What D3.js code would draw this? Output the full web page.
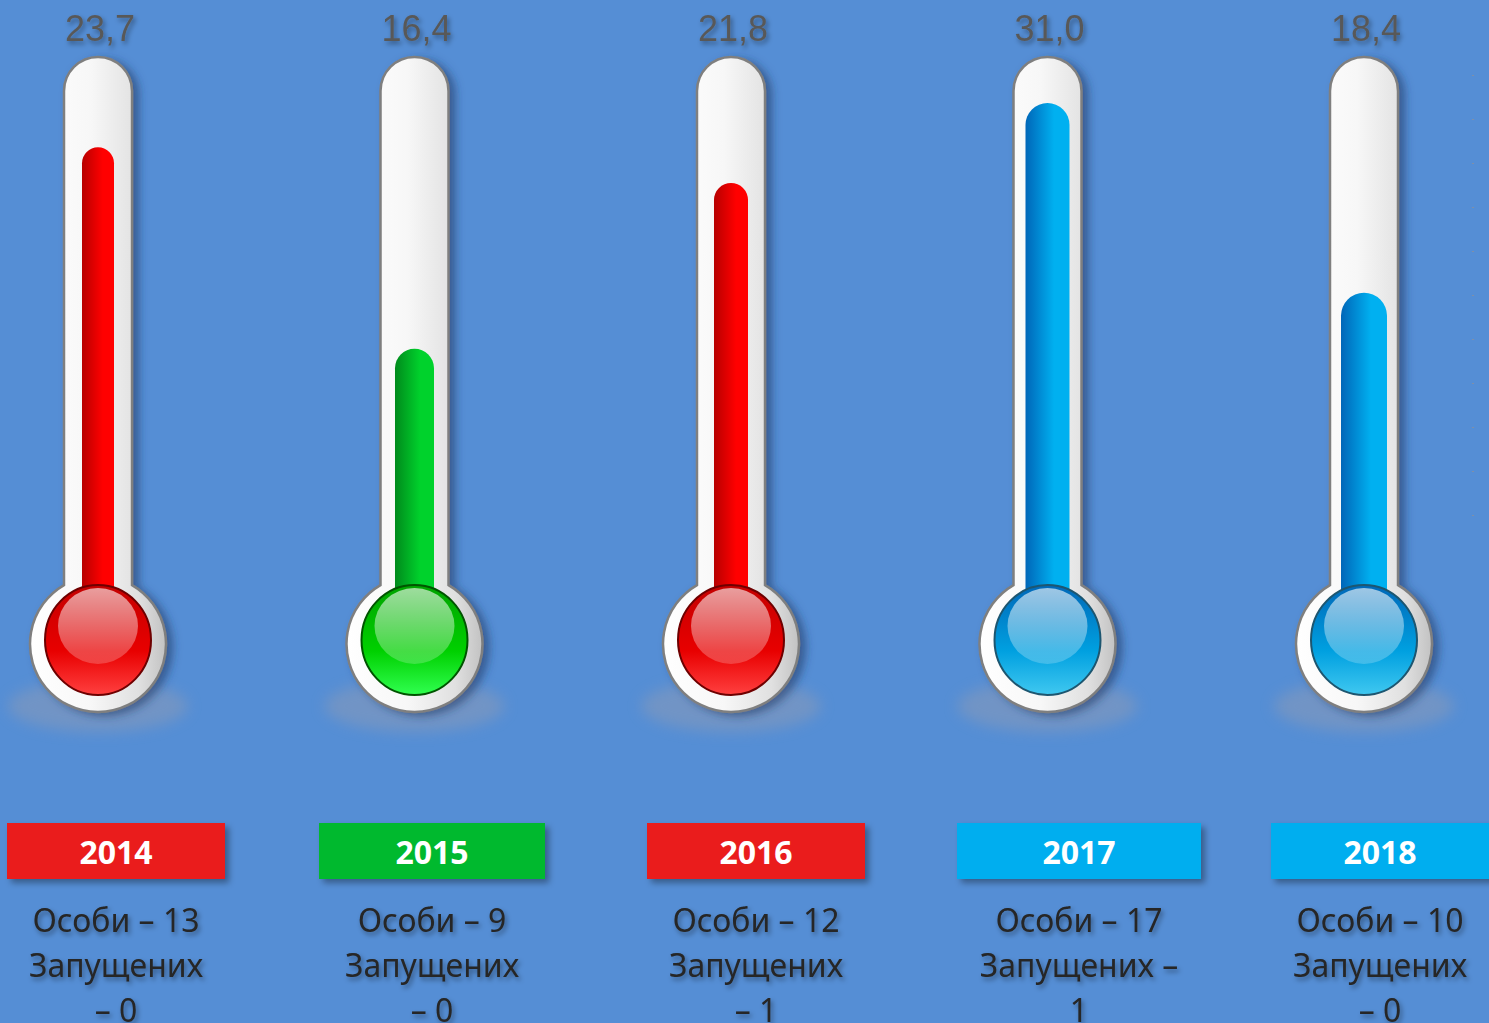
<!DOCTYPE html>
<html>
<head>
<meta charset="utf-8">
<script src="https://cdn.jsdelivr.net/npm/d3@7"></script>
<style>
  body { margin: 0; background: #558ed5; overflow: hidden; }
</style>
</head>
<body>
<div id="chart"></div>
<script>
// data
const years = ["2014", "2015", "2016", "2017", "2018"];
const values = [23.7, 16.4, 21.8, 31.0, 18.4];
const fillLevels = [88, 52, 81.6, 95.9, 62]; // column height, % of the tube
const persons = [13, 9, 12, 17, 10];
const released = [0, 0, 1, 1, 0];
const palette = ["red", "green", "red", "blue", "blue"];

// layout
const W = 1489, H = 1023;
const fillW = [32, 39, 34, 44, 46];
const boxLeft = [7, 319, 647, 957, 1271];
const boxRight = [225, 545, 865, 1201, 1497];

const themes = {
  red:   { bar: ["#b70000", "#ff0000"], bulb: ["#c40000", "#e80000", "#ff4040"], rim: "#6e0000", box: "#ea1b1b" },
  green: { bar: ["#008a1c", "#00d22c"], bulb: ["#00a300", "#00d000", "#30ff50"], rim: "#005400", box: "#00b92d" },
  blue:  { bar: ["#0066b8", "#00b0f0"], bulb: ["#0068b8", "#00a0e0", "#40c8f0"], rim: "#1d5670", box: "#00aeef" }
};

const svg = d3.select("#chart").append("svg")
  .attr("width", W)
  .attr("height", H);

const defs = svg.append("defs");

defs.append("filter").attr("id", "tubeShadow")
  .attr("x", "-30%").attr("y", "-10%").attr("width", "160%").attr("height", "120%")
  .append("feDropShadow")
  .attr("dx", 6).attr("dy", 3).attr("stdDeviation", 4)
  .attr("flood-color", "#1a3560").attr("flood-opacity", 0.55);

defs.append("filter").attr("id", "textShadow")
  .attr("x", "-20%").attr("y", "-30%").attr("width", "140%").attr("height", "160%")
  .append("feDropShadow")
  .attr("dx", 2).attr("dy", 3).attr("stdDeviation", 2.5)
  .attr("flood-color", "#000").attr("flood-opacity", 0.4);

defs.append("filter").attr("id", "boxShadow")
  .attr("x", "-10%").attr("y", "-20%").attr("width", "120%").attr("height", "150%")
  .append("feDropShadow")
  .attr("dx", 4).attr("dy", 4).attr("stdDeviation", 3)
  .attr("flood-color", "#000").attr("flood-opacity", 0.35);

defs.append("filter").attr("id", "floorBlur")
  .attr("x", "-30%").attr("y", "-60%").attr("width", "160%").attr("height", "220%")
  .append("feGaussianBlur").attr("stdDeviation", 7);

const tubeGrad = defs.append("linearGradient").attr("id", "tubeGrad")
  .attr("x1", 0).attr("x2", 1).attr("y1", 0).attr("y2", 0);
tubeGrad.selectAll("stop")
  .data([[0, "#ffffff"], [0.45, "#f7f7f7"], [0.8, "#e0e0e0"], [1, "#c2c2c2"]])
  .join("stop")
  .attr("offset", d => d[0])
  .attr("stop-color", d => d[1]);

Object.entries(themes).forEach(([key, t]) => {
  const bg = defs.append("linearGradient").attr("id", `bar-${key}`)
    .attr("x1", 0).attr("x2", 1).attr("y1", 0).attr("y2", 0);
  bg.append("stop").attr("offset", 0).attr("stop-color", t.bar[0]);
  bg.append("stop").attr("offset", 0.65).attr("stop-color", t.bar[1]);
  bg.append("stop").attr("offset", 1).attr("stop-color", t.bar[1]);

  const bb = defs.append("linearGradient").attr("id", `bulb-${key}`)
    .attr("x1", 0).attr("x2", 0).attr("y1", 0).attr("y2", 1);
  bb.append("stop").attr("offset", 0).attr("stop-color", t.bulb[0]);
  bb.append("stop").attr("offset", 0.6).attr("stop-color", t.bulb[1]);
  bb.append("stop").attr("offset", 1).attr("stop-color", t.bulb[2]);
});

const hiGrad = defs.append("linearGradient").attr("id", "hiGrad")
  .attr("x1", 0).attr("x2", 0).attr("y1", 0).attr("y2", 1);
hiGrad.append("stop").attr("offset", 0).attr("stop-color", "#fff").attr("stop-opacity", 0.62);
hiGrad.append("stop").attr("offset", 1).attr("stop-color", "#fff").attr("stop-opacity", 0.2);

// scales
const x = d3.scalePoint().domain(years).range([98, 1364]);
const y = d3.scaleLinear().domain([0, 100]).range([640, 80]);

const tubeTop = 57, tubeR = 34, bulbCy = 644, bulbR = 68;

function tubePath(cx) {
  const jy = bulbCy - Math.sqrt(bulbR * bulbR - tubeR * tubeR);
  return `M${cx - tubeR},${jy} V${tubeTop + tubeR} ` +
    `A${tubeR},${tubeR} 0 0 1 ${cx + tubeR},${tubeTop + tubeR} V${jy} ` +
    `A${bulbR},${bulbR} 0 1 1 ${cx - tubeR},${jy} Z`;
}

function barPath(cx, w, top) {
  const r = w / 2;
  return `M${cx - r},${bulbCy} V${top + r} A${r},${r} 0 0 1 ${cx + r},${top + r} V${bulbCy} Z`;
}

const rows = years.map((yr, i) => ({
  year: yr, value: values[i], level: fillLevels[i], persons: persons[i],
  released: released[i], theme: palette[i], w: fillW[i],
  left: boxLeft[i], right: boxRight[i]
}));

// faint tick dots at the right edge
const tickScale = d3.scaleLinear().domain([0, 10]).range([515, 75]);
const tickAxis = svg.append("g")
  .attr("transform", "translate(1472,0)")
  .call(d3.axisRight(tickScale).ticks(10).tickSize(2).tickFormat(""));
tickAxis.select(".domain").remove();
tickAxis.selectAll("line").attr("stroke", "#7f8fa8");

const therm = svg.selectAll("g.therm")
  .data(rows)
  .join("g")
  .attr("class", "therm");

therm.append("ellipse")
  .attr("cx", d => x(d.year))
  .attr("cy", 706)
  .attr("rx", 90)
  .attr("ry", 26)
  .attr("fill", "#8499bb")
  .attr("opacity", 0.6)
  .attr("filter", "url(#floorBlur)");

therm.append("path")
  .attr("d", d => tubePath(x(d.year)))
  .attr("fill", "url(#tubeGrad)")
  .attr("stroke", "#7f7f7f")
  .attr("stroke-width", 2.5)
  .attr("filter", "url(#tubeShadow)");

therm.append("path")
  .attr("d", d => barPath(x(d.year), d.w, y(d.level)))
  .attr("fill", d => `url(#bar-${d.theme})`);

therm.append("ellipse")
  .attr("cx", d => x(d.year))
  .attr("cy", 640)
  .attr("rx", 53)
  .attr("ry", 55)
  .attr("fill", d => `url(#bulb-${d.theme})`)
  .attr("stroke", d => themes[d.theme].rim)
  .attr("stroke-width", 2);

therm.append("ellipse")
  .attr("cx", d => x(d.year))
  .attr("cy", 626)
  .attr("rx", 40)
  .attr("ry", 38)
  .attr("fill", "url(#hiGrad)");

// value labels
svg.selectAll("text.value")
  .data(rows)
  .join("text")
  .attr("class", "value")
  .attr("x", d => x(d.year) + 2)
  .attr("y", 41)
  .attr("text-anchor", "middle")
  .attr("font-family", "'Liberation Sans', Arial, sans-serif")
  .attr("font-size", 36)
  .attr("fill", "#595959")
  .attr("filter", "url(#textShadow)")
  .text(d => d3.format(".1f")(d.value).replace(".", ","));

// year boxes
svg.selectAll("rect.yearBox")
  .data(rows)
  .join("rect")
  .attr("class", "yearBox")
  .attr("x", d => d.left)
  .attr("y", 823)
  .attr("width", d => d.right - d.left)
  .attr("height", 56)
  .attr("fill", d => themes[d.theme].box)
  .attr("filter", "url(#boxShadow)");

svg.selectAll("text.year")
  .data(rows)
  .join("text")
  .attr("class", "year")
  .attr("x", d => (d.left + Math.min(d.right, W)) / 2)
  .attr("y", 864)
  .attr("text-anchor", "middle")
  .attr("font-family", "'Noto Sans', 'Open Sans', sans-serif")
  .attr("font-weight", "bold")
  .attr("font-size", 32)
  .attr("fill", "#fff")
  .text(d => d.year);

// captions under the boxes
const caption = svg.selectAll("text.caption")
  .data(rows)
  .join("text")
  .attr("class", "caption")
  .attr("text-anchor", "middle")
  .attr("font-family", "'Noto Sans', 'Open Sans', sans-serif")
  .attr("font-size", 32)
  .attr("fill", "#262626")
  .attr("filter", "url(#textShadow)");

caption.each(function (d) {
  const t = d3.select(this);
  const cx = (d.left + Math.min(d.right, W)) / 2;
  const maxW = (d.right - d.left) - 36;
  const lines = [`Особи – ${d.persons}`];
  const words = ["Запущених", "–", String(d.released)];
  let line = [];
  const probe = t.append("tspan");
  words.forEach(wd => {
    const test = line.concat(wd).join(" ");
    probe.text(test);
    if (line.length && probe.node().getComputedTextLength() > maxW) {
      lines.push(line.join(" "));
      line = [wd];
    } else {
      line.push(wd);
    }
  });
  lines.push(line.join(" "));
  probe.remove();
  t.selectAll("tspan")
    .data(lines)
    .join("tspan")
    .attr("x", cx)
    .attr("y", (l, i) => 932 + i * 45)
    .text(l => l);
});
</script>
</body>
</html>
